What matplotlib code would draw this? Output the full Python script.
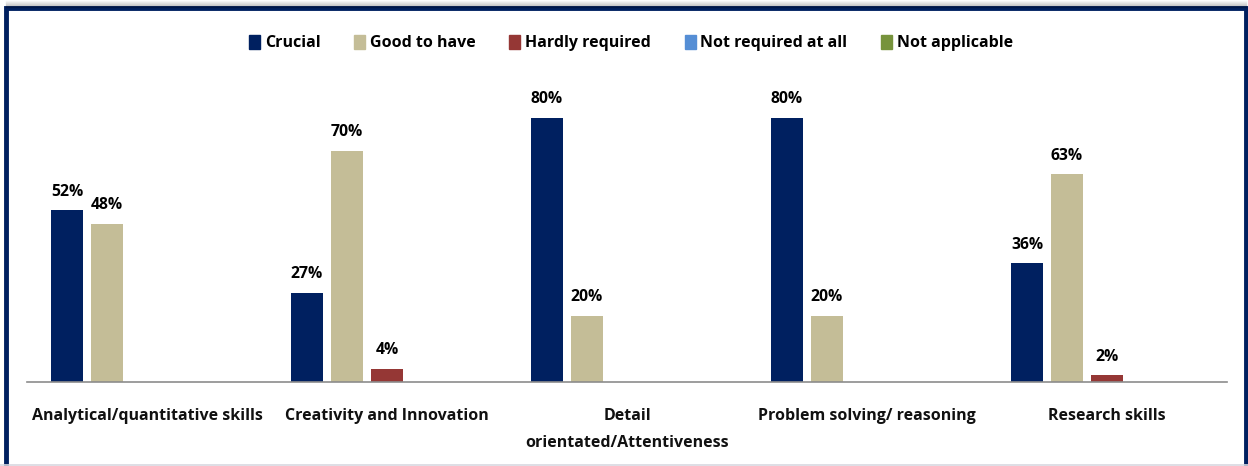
import numpy as np
import matplotlib.pyplot as plt
from matplotlib.patches import Rectangle
from matplotlib.lines import Line2D

skills = ['Analytical/quantitative skills', 'Creativity and Innovation',
          'Detail\norientated/Attentiveness', 'Problem solving/ reasoning',
          'Research skills']
series = ['Crucial', 'Good to have', 'Hardly required', 'Not required at all',
          'Not applicable']
crucial = [52, 27, 80, 80, 36]
good = [48, 70, 20, 20, 63]
hardly = [0, 4, 0, 0, 2]
not_required = [0, 0, 0, 0, 0]
not_applicable = [0, 0, 0, 0, 0]
colors = ['#002060', '#C4BD97', '#953735', '#558ED5', '#77933C']

W, H = 1248, 466
fig = plt.figure(figsize=(W / 100, H / 100), dpi=100)
plt.rcParams['font.family'] = ['Open Sans', 'DejaVu Sans']

# plot area: baseline at y=382 px, 80% reaches y=118 px
ax = fig.add_axes([27 / W, (H - 382) / H, 1200 / W, 297 / H])
ax.set_xlim(0, 5)
ax.set_ylim(0, 90)

x = np.arange(5)
width = 32 / 240
step = 40 / 240
data = [crucial, good, hardly, not_required, not_applicable]
for i, vals in enumerate(data):
    pos = x + 0.5 + (i - 2) * step
    ax.bar(pos, vals, width, color=colors[i], label=series[i])
    for p, v in zip(pos, vals):
        if v > 0:
            ax.text(p, v + 3.2, f'{v}%', ha='center', va='bottom',
                    fontsize=11.3, fontweight='bold', color='#000000')

for s in ['top', 'right', 'left']:
    ax.spines[s].set_visible(False)
ax.spines['bottom'].set_color('#8c8c8c')
ax.spines['bottom'].set_linewidth(1.2)
ax.set_yticks([])
ax.set_xticks(x + 0.5)
ax.set_xticklabels(skills, fontsize=11.5, fontweight='bold', color='#111111',
                   linespacing=1.9)
ax.tick_params(axis='x', length=0, pad=19)
ax.patch.set_alpha(0)

handles = [Rectangle((0, 0), 1, 1, color=c) for c in colors]
fig.legend(handles, series, loc='center', bbox_to_anchor=(631 / W, 1 - 43 / H),
           ncol=5, frameon=False, handlelength=0.7,
           handleheight=1.05, handletextpad=0.3, columnspacing=2.1,
           prop={'weight': 'bold', 'size': 11.5})

# navy frame with soft shadow above the top edge
for k in range(7):
    fig.add_artist(Line2D([6 / W, 1246 / W], [1 - (1 + k) / H] * 2,
                          color='#000000', alpha=0.03 * (k + 1), lw=1))
fig.add_artist(Rectangle((6 / W, -0.05), 1240 / W, 1 - 8 / H + 0.05,
                         transform=fig.transFigure, fill=False,
                         edgecolor='#002060', lw=3.5))
fig.add_artist(Line2D([0, 1], [1.5 / H] * 2, color='#d8d8e0', lw=1.2))

fig.savefig('out.png', dpi=100)
